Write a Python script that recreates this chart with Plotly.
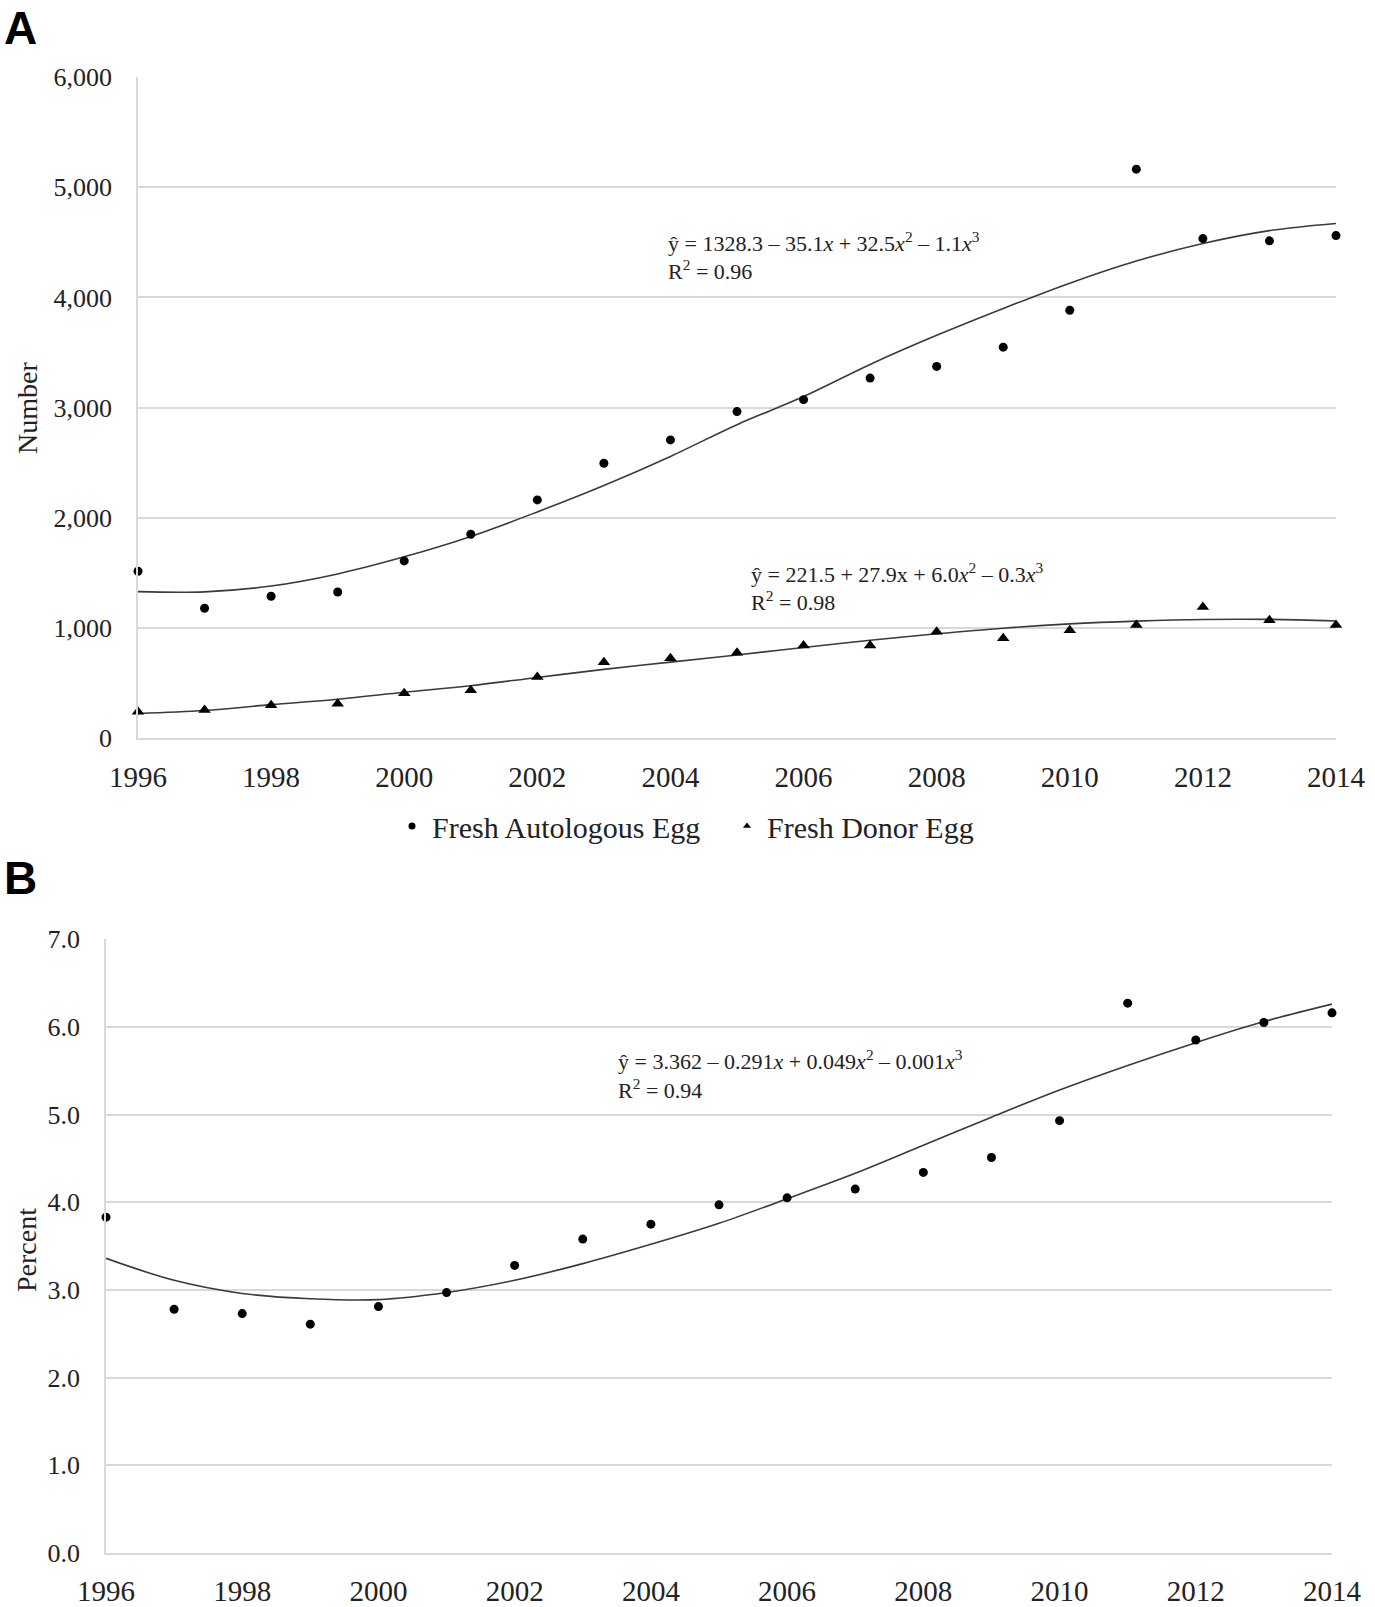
import plotly.graph_objects as go

# ---------------- data ----------------
years = list(range(1996, 2015))
autologous = [1514, 1178, 1287, 1326, 1608, 1850, 2162, 2495, 2707, 2964,
              3072, 3268, 3374, 3549, 3884, 5165, 4535, 4514, 4562]
donor = [239, 254, 297, 312, 406, 433, 554, 687, 724, 773,
         840, 840, 964, 906, 979, 1027, 1190, 1069, 1027]
autologous_trend = [1329, 1327, 1380, 1490, 1645, 1830, 2053, 2293, 2557, 2845,
                    3100, 3392, 3656, 3900, 4130, 4331, 4490, 4607, 4672]
donor_trend = [223, 250, 303, 352, 415, 475, 550, 623, 689, 754,
               822, 888, 946, 997, 1036, 1061, 1076, 1077, 1062]
percent = [3.83, 2.78, 2.73, 2.61, 2.81, 2.97, 3.28, 3.58, 3.75, 3.97,
           4.05, 4.15, 4.34, 4.51, 4.93, 6.27, 5.85, 6.05, 6.16]
percent_trend = [3.36, 3.11, 2.96, 2.90, 2.89, 2.97, 3.11, 3.30, 3.52, 3.76,
                 4.04, 4.33, 4.65, 4.97, 5.28, 5.56, 5.82, 6.06, 6.26]
legend_names = ["Fresh Autologous Egg", "Fresh Donor Egg"]

# ---------------- layout helpers (reference pixel -> paper) ----------------
W, H = 1375, 1607


def px(x):
    return x / W


def py(y):
    return 1 - y / H


SERIF = "Liberation Serif, Times New Roman, serif"
SANS = "Liberation Sans, Arial, sans-serif"
TXT = "#222222"
GRID = "#d9d9d9"
LINE = "#3a3a3a"

fig = go.Figure()

# Panel A
fig.add_trace(go.Scatter(x=years, y=autologous_trend, mode="lines", line=dict(color=LINE, width=1.6, shape="spline"),
                         showlegend=False, xaxis="x", yaxis="y", hoverinfo="skip"))
fig.add_trace(go.Scatter(x=years, y=donor_trend, mode="lines", line=dict(color=LINE, width=1.6, shape="spline"),
                         showlegend=False, xaxis="x", yaxis="y", hoverinfo="skip"))
fig.add_trace(go.Scatter(x=years, y=autologous, mode="markers", name=legend_names[0],
                         marker=dict(symbol="circle", size=9, color="black"),
                         showlegend=False, cliponaxis=False, xaxis="x", yaxis="y"))
fig.add_trace(go.Scatter(x=years, y=donor, mode="markers", name=legend_names[1],
                         marker=dict(symbol="triangle-up", size=11, color="black"),
                         showlegend=False, cliponaxis=False, xaxis="x", yaxis="y"))
# legend entries (small symbols as in the reference)
fig.add_trace(go.Scatter(x=[None], y=[None], mode="markers", name=legend_names[0],
                         marker=dict(symbol="circle", size=7, color="black"), xaxis="x", yaxis="y"))
fig.add_trace(go.Scatter(x=[None], y=[None], mode="markers", name=legend_names[1],
                         marker=dict(symbol="triangle-up", size=7, color="black"), xaxis="x", yaxis="y"))

# Panel B
fig.add_trace(go.Scatter(x=years, y=percent_trend, mode="lines", line=dict(color=LINE, width=1.6, shape="spline"),
                         showlegend=False, xaxis="x2", yaxis="y2", hoverinfo="skip"))
fig.add_trace(go.Scatter(x=years, y=percent, mode="markers", name="Percent",
                         marker=dict(symbol="circle", size=9, color="black"),
                         showlegend=False, cliponaxis=False, xaxis="x2", yaxis="y2"))

xcommon = dict(range=[1996, 2014], tick0=1996, dtick=2, showgrid=False, zeroline=False,
               showline=True, linecolor=GRID, linewidth=1.5, ticks="", automargin=False,
               tickfont=dict(family=SERIF, size=29, color=TXT), fixedrange=True)
ycommon = dict(showgrid=True, gridcolor=GRID, gridwidth=1.5, zeroline=False,
               showline=True, linecolor=GRID, linewidth=1.5, ticks="", automargin=False,
               tickfont=dict(family=SERIF, size=26, color=TXT), fixedrange=True)

fig.update_layout(
    width=W, height=H,
    margin=dict(l=0, r=0, t=0, b=0, pad=0),
    paper_bgcolor="white", plot_bgcolor="white",
    xaxis=dict(domain=[px(138), px(1336)], anchor="y", ticklabelstandoff=12, **xcommon),
    yaxis=dict(domain=[py(738), py(77)], anchor="x", range=[0, 6002],
               tickvals=[0, 1000, 2000, 3000, 4000, 5000, 6000],
               tickformat=",d", ticklabelstandoff=19, **ycommon),
    xaxis2=dict(domain=[px(106), px(1332)], anchor="y2", ticklabelstandoff=11, **xcommon),
    yaxis2=dict(domain=[py(1553), py(939)], anchor="x2", range=[0, 7.002],
                tickvals=[0, 1, 2, 3, 4, 5, 6, 7],
                tickformat=".1f", ticklabelstandoff=19, **ycommon),
    showlegend=True,
    legend=dict(orientation="h", x=px(392), xanchor="left", y=py(800), yanchor="top",
                font=dict(family=SERIF, size=30, color=TXT), bgcolor="rgba(0,0,0,0)",
                entrywidth=290, entrywidthmode="pixels"),
)

ann = []
ann.append(dict(text="<b>A</b>", x=px(2), y=py(0), xanchor="left", yanchor="top",
                font=dict(family=SANS, size=46, color="black")))
ann.append(dict(text="<b>B</b>", x=px(2), y=py(878), xanchor="left", yanchor="middle",
                font=dict(family=SANS, size=46, color="black")))
ann.append(dict(text="Number", x=px(27), y=py(408), textangle=-90, xanchor="center", yanchor="middle",
                font=dict(family=SERIF, size=28, color=TXT)))
ann.append(dict(text="Percent", x=px(26), y=py(1250), textangle=-90, xanchor="center", yanchor="middle",
                font=dict(family=SERIF, size=28, color=TXT)))
eqfont = dict(family=SERIF, size=22, color=TXT)
ann.append(dict(text="ŷ = 1328.3 – 35.1<i>x</i> + 32.5<i>x</i><sup>2</sup> – 1.1<i>x</i><sup>3</sup>",
                x=px(666), y=py(242), xanchor="left", yanchor="middle", font=eqfont))
ann.append(dict(text="R<sup>2</sup> = 0.96", x=px(666), y=py(270), xanchor="left", yanchor="middle", font=eqfont))
ann.append(dict(text="ŷ = 221.5 + 27.9x + 6.0<i>x</i><sup>2</sup> – 0.3<i>x</i><sup>3</sup>",
                x=px(749), y=py(573), xanchor="left", yanchor="middle", font=eqfont))
ann.append(dict(text="R<sup>2</sup> = 0.98", x=px(749), y=py(601), xanchor="left", yanchor="middle", font=eqfont))
ann.append(dict(text="ŷ = 3.362 – 0.291<i>x</i> + 0.049<i>x</i><sup>2</sup> – 0.001<i>x</i><sup>3</sup>",
                x=px(616), y=py(1060), xanchor="left", yanchor="middle", font=eqfont))
ann.append(dict(text="R<sup>2</sup> = 0.94", x=px(616), y=py(1089), xanchor="left", yanchor="middle", font=eqfont))
for a in ann:
    a.update(xref="paper", yref="paper", showarrow=False)
fig.update_layout(annotations=ann)

fig.write_html("out.html", config={"displayModeBar": False},
               post_script="document.body.style.margin='0px';document.body.style.overflow='hidden';")
